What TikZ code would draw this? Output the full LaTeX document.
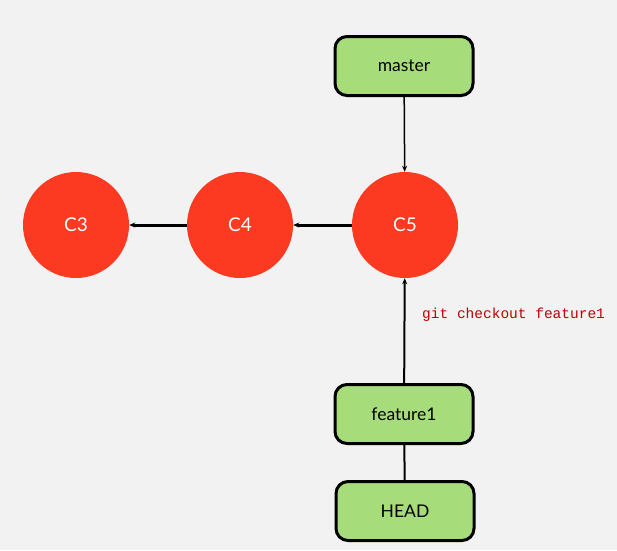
\documentclass[tikz,border=0pt]{standalone}
\usepackage{fontspec}
\setmainfont{Lato}
\setmonofont{Liberation Mono}
\usetikzlibrary{arrows.meta}
\definecolor{boxgreen}{HTML}{A7DC7B}
\definecolor{commitred}{HTML}{FC3A21}
\definecolor{cmdred}{HTML}{C00000}
\definecolor{paper}{HTML}{F2F2F2}

\begin{document}
\begin{tikzpicture}[x=1pt, y=-1pt, >={Stealth[length=6pt,width=5pt]},
	commit/.style={circle, fill=commitred, text=white, minimum size=106pt, inner sep=0pt, font=\fontsize{19}{19}\selectfont},
	branchref/.style={draw, rounded corners=12pt, line width=3pt, fill=boxgreen, minimum width=138pt, minimum height=59pt, font=\fontsize{17.5}{17.5}\selectfont}]
	\fill[paper] (0,0) rectangle (617,550);
	\node[commit] (c3) at (76,225) {C3};
	\node[commit] (c4) at (240,225) {C4};
	\node[commit] (c5) at (405,225) {C5};
	\node[branchref] (master) at (404,66) {master};
	\node[branchref] (feature1) at (404,414) {feature1};
	\node[branchref] (head) at (405,511) {HEAD};
	\draw[->, line width=3pt] (c4) -- (c3);
	\draw[->, line width=3pt] (c5) -- (c4);
	\draw[->, line width=1.5pt] (master) -- (c5);
	\draw[->, line width=2pt] (feature1) -- (c5);
	\draw[-, line width=2pt] (feature1) -- (head);
	\node[text=cmdred, anchor=west, inner sep=0pt, font=\ttfamily\fontsize{14.5}{14.5}\selectfont] (cmd) at (422,315) {git checkout feature1};
\end{tikzpicture}
\end{document}
